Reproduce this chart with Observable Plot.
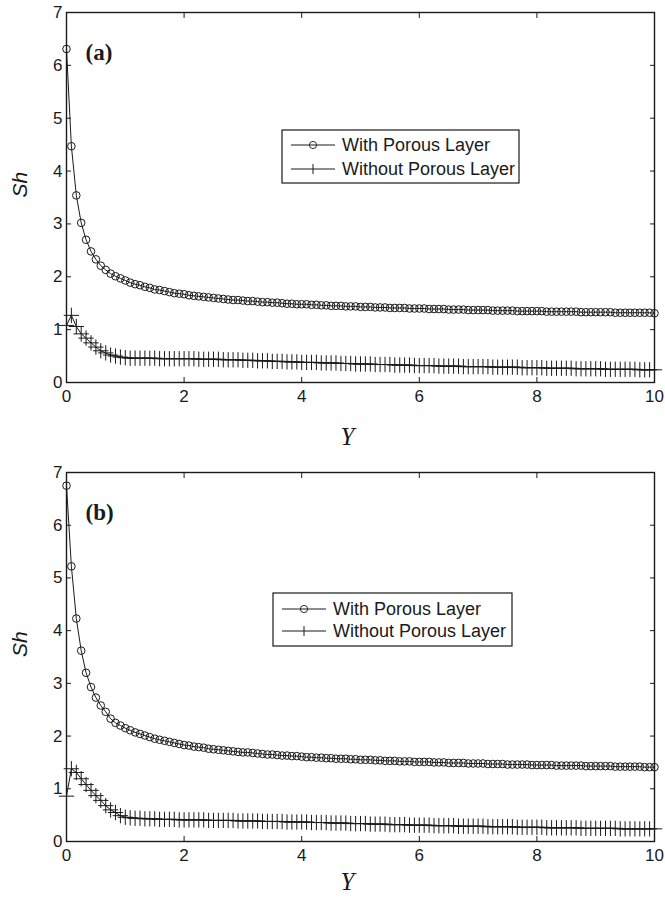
<!DOCTYPE html>
<html>
<head>
<meta charset="utf-8">
<script src="https://cdn.jsdelivr.net/npm/d3@7"></script>
<script src="https://cdn.jsdelivr.net/npm/@observablehq/plot@0.6"></script>
<style>
  body { margin: 0; background: #fff; }
  #chart { width: 665px; }
  #chart svg { display: block; }
</style>
</head>
<body>
<div id="chart"></div>
<script>
// Sampling positions along Y (one row per unit of Y)
const yGrid = [
  0, 0.083, 0.167, 0.25, 0.333, 0.417, 0.5, 0.583, 0.667, 0.75, 0.833, 0.917,
  1, 1.083, 1.167, 1.25, 1.333, 1.417, 1.5, 1.583, 1.667, 1.75, 1.833, 1.917,
  2, 2.083, 2.167, 2.25, 2.333, 2.417, 2.5, 2.583, 2.667, 2.75, 2.833, 2.917,
  3, 3.083, 3.167, 3.25, 3.333, 3.417, 3.5, 3.583, 3.667, 3.75, 3.833, 3.917,
  4, 4.083, 4.167, 4.25, 4.333, 4.417, 4.5, 4.583, 4.667, 4.75, 4.833, 4.917,
  5, 5.083, 5.167, 5.25, 5.333, 5.417, 5.5, 5.583, 5.667, 5.75, 5.833, 5.917,
  6, 6.083, 6.167, 6.25, 6.333, 6.417, 6.5, 6.583, 6.667, 6.75, 6.833, 6.917,
  7, 7.083, 7.167, 7.25, 7.333, 7.417, 7.5, 7.583, 7.667, 7.75, 7.833, 7.917,
  8, 8.083, 8.167, 8.25, 8.333, 8.417, 8.5, 8.583, 8.667, 8.75, 8.833, 8.917,
  9, 9.083, 9.167, 9.25, 9.333, 9.417, 9.5, 9.583, 9.667, 9.75, 9.833, 9.917,
  10
];

// Panel (a): Sherwood number
const shWithA = [
  6.31, 4.47, 3.54, 3.02, 2.70, 2.48, 2.33, 2.21, 2.13, 2.06, 2.01, 1.97,
  1.93, 1.89, 1.86, 1.84, 1.81, 1.79, 1.76, 1.75, 1.73, 1.71, 1.69, 1.68,
  1.67, 1.65, 1.64, 1.63, 1.62, 1.61, 1.60, 1.59, 1.58, 1.57, 1.56, 1.56,
  1.55, 1.54, 1.54, 1.53, 1.52, 1.52, 1.51, 1.51, 1.50, 1.49, 1.49, 1.48,
  1.48, 1.48, 1.47, 1.47, 1.46, 1.46, 1.45, 1.45, 1.45, 1.44, 1.44, 1.44,
  1.43, 1.43, 1.43, 1.42, 1.42, 1.42, 1.41, 1.41, 1.41, 1.41, 1.40, 1.40,
  1.40, 1.40, 1.39, 1.39, 1.39, 1.39, 1.38, 1.38, 1.38, 1.38, 1.37, 1.37,
  1.37, 1.37, 1.37, 1.36, 1.36, 1.36, 1.36, 1.36, 1.35, 1.35, 1.35, 1.35,
  1.35, 1.35, 1.34, 1.34, 1.34, 1.34, 1.34, 1.34, 1.34, 1.33, 1.33, 1.33,
  1.33, 1.33, 1.33, 1.33, 1.32, 1.32, 1.32, 1.32, 1.32, 1.32, 1.32, 1.32,
  1.31
];
const shWithoutA = [
  1.08, 1.27, 1.06, 0.92, 0.84, 0.75, 0.67, 0.60, 0.56, 0.52, 0.50, 0.48,
  0.47, 0.46, 0.46, 0.46, 0.46, 0.46, 0.46, 0.45, 0.45, 0.45, 0.45, 0.45,
  0.45, 0.45, 0.45, 0.44, 0.44, 0.44, 0.44, 0.44, 0.43, 0.43, 0.43, 0.43,
  0.42, 0.42, 0.42, 0.41, 0.41, 0.41, 0.40, 0.40, 0.40, 0.39, 0.39, 0.39,
  0.38, 0.38, 0.38, 0.38, 0.37, 0.37, 0.37, 0.37, 0.36, 0.36, 0.36, 0.35,
  0.35, 0.35, 0.35, 0.34, 0.34, 0.34, 0.34, 0.33, 0.33, 0.33, 0.33, 0.32,
  0.32, 0.32, 0.32, 0.32, 0.31, 0.31, 0.31, 0.31, 0.31, 0.30, 0.30, 0.30,
  0.30, 0.30, 0.30, 0.29, 0.29, 0.29, 0.29, 0.29, 0.29, 0.28, 0.28, 0.28,
  0.28, 0.28, 0.27, 0.27, 0.27, 0.27, 0.27, 0.27, 0.26, 0.26, 0.26, 0.26,
  0.26, 0.26, 0.25, 0.25, 0.25, 0.25, 0.25, 0.25, 0.25, 0.24, 0.24, 0.24,
  0.24
];

// Panel (b): Sherwood number
const shWithB = [
  6.75, 5.22, 4.23, 3.62, 3.20, 2.93, 2.73, 2.58, 2.46, 2.33, 2.25, 2.20,
  2.15, 2.11, 2.07, 2.04, 2.01, 1.98, 1.95, 1.93, 1.91, 1.89, 1.87, 1.85,
  1.83, 1.82, 1.80, 1.79, 1.78, 1.76, 1.75, 1.74, 1.73, 1.72, 1.71, 1.70,
  1.69, 1.69, 1.68, 1.67, 1.66, 1.65, 1.65, 1.64, 1.63, 1.63, 1.62, 1.62,
  1.61, 1.60, 1.60, 1.59, 1.59, 1.58, 1.58, 1.57, 1.57, 1.57, 1.56, 1.56,
  1.55, 1.55, 1.55, 1.54, 1.54, 1.53, 1.53, 1.53, 1.52, 1.52, 1.52, 1.51,
  1.51, 1.51, 1.51, 1.50, 1.50, 1.50, 1.49, 1.49, 1.49, 1.49, 1.48, 1.48,
  1.48, 1.48, 1.47, 1.47, 1.47, 1.47, 1.46, 1.46, 1.46, 1.46, 1.46, 1.45,
  1.45, 1.45, 1.45, 1.45, 1.44, 1.44, 1.44, 1.44, 1.44, 1.44, 1.43, 1.43,
  1.43, 1.43, 1.43, 1.43, 1.42, 1.42, 1.42, 1.42, 1.42, 1.42, 1.41, 1.41,
  1.41
];
const shWithoutB = [
  0.86, 1.38, 1.31, 1.19, 1.08, 0.97, 0.87, 0.78, 0.68, 0.60, 0.55, 0.49,
  0.46, 0.45, 0.44, 0.44, 0.43, 0.43, 0.43, 0.42, 0.42, 0.42, 0.42, 0.41,
  0.41, 0.41, 0.41, 0.41, 0.41, 0.40, 0.40, 0.40, 0.40, 0.40, 0.40, 0.39,
  0.39, 0.39, 0.39, 0.39, 0.38, 0.38, 0.38, 0.38, 0.38, 0.37, 0.37, 0.37,
  0.37, 0.37, 0.36, 0.36, 0.36, 0.36, 0.35, 0.35, 0.35, 0.35, 0.34, 0.34,
  0.34, 0.34, 0.33, 0.33, 0.33, 0.33, 0.32, 0.32, 0.32, 0.32, 0.31, 0.31,
  0.31, 0.31, 0.31, 0.30, 0.30, 0.30, 0.30, 0.30, 0.29, 0.29, 0.29, 0.29,
  0.29, 0.29, 0.28, 0.28, 0.28, 0.28, 0.28, 0.28, 0.27, 0.27, 0.27, 0.27,
  0.27, 0.27, 0.26, 0.26, 0.26, 0.26, 0.26, 0.26, 0.26, 0.25, 0.25, 0.25,
  0.25, 0.25, 0.25, 0.25, 0.25, 0.24, 0.24, 0.24, 0.24, 0.24, 0.24, 0.24,
  0.24
];

const xTicks = [0, 2, 4, 6, 8, 10];
const yTicks = [0, 1, 2, 3, 4, 5, 6, 7];
const seriesNames = ["With Porous Layer", "Without Porous Layer"];
const panelLabels = ["(a)", "(b)"];
const xTitle = "Y";
const yTitle = "Sh";

const ink = "#1a1a1a";
const sans = "'Liberation Sans', Arial, Helvetica, sans-serif";
const serif = "'Liberation Serif', 'Times New Roman', serif";
const intFormat = d3.format("d");

function panel({label, withVals, withoutVals, height, marginTop, marginBottom, titleOffset, legend}) {
  const toRows = vals => yGrid.map((Y, i) => ({Y, Sh: vals[i]}));
  const withRows = toRows(withVals);
  const withoutRows = toRows(withoutVals);

  const svg = Plot.plot({
    width: 665,
    height,
    marginLeft: 66,
    marginRight: 11,
    marginTop,
    marginBottom,
    style: {fontFamily: sans, fontSize: "17px", color: ink, background: "#fff"},
    x: {domain: [0, 10]},
    y: {domain: [0, 7]},
    marks: [
      // box with inward ticks on all four sides
      Plot.frame({stroke: ink, strokeWidth: 1.4}),
      Plot.axisX({ticks: xTicks, tickSize: -5, tickPadding: 12, tickFormat: intFormat, label: null, fontSize: 17}),
      Plot.axisX({anchor: "top", ticks: xTicks, tickSize: -5, tickFormat: () => "", label: null}),
      Plot.axisY({ticks: yTicks, tickSize: -5, tickPadding: 9, tickFormat: intFormat, label: null, fontSize: 17}),
      Plot.axisY({anchor: "right", ticks: yTicks, tickSize: -5, tickFormat: () => "", label: null}),

      // with porous layer: line with open circles
      Plot.line(withRows, {x: "Y", y: "Sh", stroke: ink, strokeWidth: 1}),
      Plot.dot(withRows, {x: "Y", y: "Sh", r: 3.8, stroke: ink, strokeWidth: 1, fill: "none"}),

      // without porous layer: line with plus markers
      Plot.line(withoutRows, {x: "Y", y: "Sh", stroke: ink, strokeWidth: 1}),
      Plot.dot(withoutRows, {x: "Y", y: "Sh", symbol: "plus", r: 5, stroke: ink, strokeWidth: 1}),

      // axis titles and panel label
      Plot.text([yTitle], {text: d => d, frameAnchor: "left", dx: -46, rotate: -90,
        fontStyle: "italic", fontSize: 21, fontFamily: sans, fill: ink}),
      Plot.text([xTitle], {text: d => d, frameAnchor: "bottom", dx: -13, dy: titleOffset,
        fontStyle: "italic", fontSize: 25, fontFamily: serif, fill: ink}),
      Plot.text([label], {text: d => d, frameAnchor: "top-left", dx: 19, dy: 31, textAnchor: "start",
        fontWeight: "bold", fontSize: 23, fontFamily: serif, fill: ink})
    ]
  });

  // boxed legend
  const g = d3.select(svg).append("g")
    .attr("font-family", sans).attr("font-size", 18).attr("text-anchor", "start");
  g.append("rect")
    .attr("x", legend.x).attr("y", legend.y)
    .attr("width", legend.w).attr("height", legend.h)
    .attr("fill", "#fff").attr("stroke", ink).attr("stroke-width", 1.2);
  seriesNames.forEach((name, i) => {
    const cy = legend.y + legend.row0 + i * legend.rowGap;
    const x0 = legend.x + 9, x1 = legend.x + 53, xm = (x0 + x1) / 2;
    g.append("line").attr("x1", x0).attr("x2", x1).attr("y1", cy).attr("y2", cy)
      .attr("stroke", ink).attr("stroke-width", 1);
    if (i === 0) {
      g.append("circle").attr("cx", xm).attr("cy", cy).attr("r", 3.6)
        .attr("fill", "none").attr("stroke", ink).attr("stroke-width", 0.9);
    } else {
      g.append("line").attr("x1", xm).attr("x2", xm).attr("y1", cy - 5).attr("y2", cy + 5)
        .attr("stroke", ink).attr("stroke-width", 1);
    }
    g.append("text").attr("x", legend.x + 60).attr("y", cy).attr("dy", "0.35em")
      .attr("text-anchor", "start").attr("fill", ink).text(name);
  });
  return svg;
}

const root = document.getElementById("chart");
root.appendChild(panel({
  label: panelLabels[0], withVals: shWithA, withoutVals: shWithoutA,
  height: 449, marginTop: 12, marginBottom: 67, titleOffset: 62,
  legend: {x: 282, y: 130, w: 237, h: 53, row0: 15, rowGap: 24}
}));
root.appendChild(panel({
  label: panelLabels[1], withVals: shWithB, withoutVals: shWithoutB,
  height: 449, marginTop: 23, marginBottom: 57, titleOffset: 48,
  legend: {x: 273, y: 144, w: 239, h: 53, row0: 16, rowGap: 22}
}));
</script>
</body>
</html>
